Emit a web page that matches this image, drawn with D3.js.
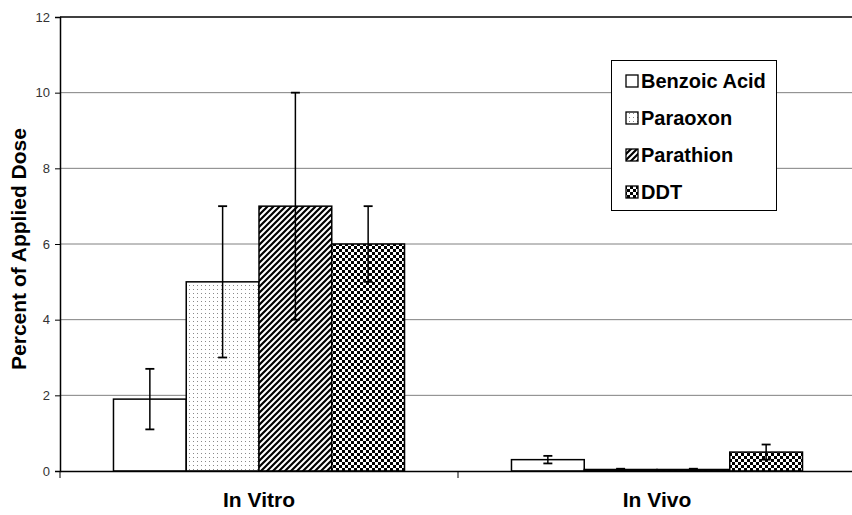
<!DOCTYPE html>
<html>
<head>
<meta charset="utf-8">
<script src="https://cdn.jsdelivr.net/npm/d3@7/dist/d3.min.js"></script>
<style>
  html, body { margin: 0; padding: 0; background: #fff; }
  svg { display: block; font-family: "Liberation Sans", Arial, sans-serif; }
</style>
</head>
<body>
<svg id="chart" width="852" height="515"></svg>
<script>
// Absorption of four compounds, as percent of applied dose
const groups = ["In Vitro", "In Vivo"];
const compounds = ["Benzoic Acid", "Paraoxon", "Parathion", "DDT"];
const inVitroMean = [1.9, 5, 7, 6];
const inVitroErr  = [0.8, 2, 3, 1];
const inVivoMean  = [0.3, 0.04, 0.04, 0.5];
const inVivoErr   = [0.1, 0.02, 0.02, 0.2];
const yTicks = [0, 2, 4, 6, 8, 10, 12];

const means = [inVitroMean, inVivoMean];
const errs = [inVitroErr, inVivoErr];

const svg = d3.select("#chart");
const plotL = 60, plotR = 856, plotT = 17, plotB = 471;

const y = d3.scaleLinear().domain([0, 12]).range([plotB, plotT]);
const x0 = d3.scaleBand().domain(groups).range([plotL, plotR]).padding(0);
const x1 = d3.scaleBand().domain(compounds).range([0, x0.bandwidth()])
  .paddingInner(0).paddingOuter(0.735);

// Fill patterns, one per compound
const defs = svg.append("defs");
const pDots = defs.append("pattern").attr("id", "pat-dots")
  .attr("patternUnits", "userSpaceOnUse").attr("width", 4).attr("height", 4);
pDots.append("rect").attr("width", 4).attr("height", 4).attr("fill", "#fff");
pDots.append("rect").attr("x", 1).attr("y", 1).attr("width", 1).attr("height", 1).attr("fill", "#8a8a8a");

const pDiag = defs.append("pattern").attr("id", "pat-diag")
  .attr("patternUnits", "userSpaceOnUse").attr("width", 6).attr("height", 6);
pDiag.append("rect").attr("width", 6).attr("height", 6).attr("fill", "#fff");
pDiag.append("path").attr("d", "M0,6 L6,0 M-1.5,1.5 L1.5,-1.5 M4.5,7.5 L7.5,4.5")
  .attr("stroke", "#000").attr("stroke-width", 2.2);

const pCheck = defs.append("pattern").attr("id", "pat-check")
  .attr("patternUnits", "userSpaceOnUse").attr("width", 6).attr("height", 6);
pCheck.append("rect").attr("width", 6).attr("height", 6).attr("fill", "#fff");
pCheck.append("rect").attr("width", 3).attr("height", 3).attr("fill", "#000");
pCheck.append("rect").attr("x", 3).attr("y", 3).attr("width", 3).attr("height", 3).attr("fill", "#000");

const fills = ["#fff", "url(#pat-dots)", "url(#pat-diag)", "url(#pat-check)"];

// Gridlines
svg.append("g").selectAll("line").data(yTicks.filter(t => t > 0 && t < 12)).join("line")
  .attr("x1", plotL).attr("x2", plotR)
  .attr("y1", d => y(d)).attr("y2", d => y(d))
  .attr("stroke", "#808080").attr("stroke-width", 1);
svg.append("line").attr("x1", plotL).attr("x2", plotR)
  .attr("y1", y(12)).attr("y2", y(12)).attr("stroke", "#000").attr("stroke-width", 1.5);

// Bars
const data = [];
groups.forEach((g, gi) => compounds.forEach((c, ci) => {
  data.push({ g, c, ci, v: means[gi][ci], e: errs[gi][ci] });
}));

const bars = svg.append("g");
bars.selectAll("rect").data(data).join("rect")
  .attr("x", d => x0(d.g) + x1(d.c))
  .attr("y", d => y(d.v))
  .attr("width", x1.bandwidth())
  .attr("height", d => y(0) - y(d.v))
  .attr("fill", d => fills[d.ci])
  .attr("stroke", "#000").attr("stroke-width", 1.5);

// Error bars
const eb = svg.append("g").attr("stroke", "#000");
data.forEach(d => {
  const cx = x0(d.g) + x1(d.c) + x1.bandwidth() / 2;
  eb.append("line").attr("x1", cx).attr("x2", cx)
    .attr("y1", y(d.v + d.e)).attr("y2", y(d.v - d.e)).attr("stroke-width", 1.5);
  [d.v + d.e, d.v - d.e].forEach(v => {
    eb.append("line").attr("x1", cx - 4.5).attr("x2", cx + 4.5)
      .attr("y1", y(v)).attr("y2", y(v)).attr("stroke-width", 1.8);
  });
});

// Y axis
const yAxis = svg.append("g").attr("transform", `translate(${plotL},0)`)
  .call(d3.axisLeft(y).tickValues(yTicks).tickSize(5).tickPadding(5).tickFormat(d3.format("d")));
yAxis.select(".domain").attr("stroke", "#000").attr("stroke-width", 1.5);
yAxis.selectAll(".tick line").attr("stroke", "#000");
yAxis.selectAll("text").attr("font-size", 13).attr("fill", "#333")
  .attr("font-family", "'Liberation Sans', Arial, sans-serif");

// X axis
const xAxis = svg.append("g").attr("transform", `translate(0,${plotB})`)
  .call(d3.axisBottom(x0).tickSize(0).tickPadding(21));
xAxis.select(".domain").attr("stroke", "#000").attr("stroke-width", 1.5);
xAxis.selectAll("text").attr("font-size", 21).attr("font-weight", "bold").attr("fill", "#000")
  .attr("font-family", "'Liberation Sans', Arial, sans-serif");
// Category separators on the x axis
const seps = [plotL, x0("In Vivo"), plotR];
svg.append("g").selectAll("line").data(seps).join("line")
  .attr("x1", d => d).attr("x2", d => d)
  .attr("y1", plotB).attr("y2", plotB + 7)
  .attr("stroke", "#000").attr("stroke-width", 1);

// Y axis title
svg.append("text")
  .attr("transform", `translate(26,249) rotate(-90)`)
  .attr("text-anchor", "middle")
  .attr("font-size", 21).attr("font-weight", "bold")
  .text("Percent of Applied Dose");

// Legend
const lg = svg.append("g");
lg.append("rect").attr("x", 611.5).attr("y", 60.5).attr("width", 165).attr("height", 150)
  .attr("fill", "#fff").attr("stroke", "#000").attr("stroke-width", 1);
const ly = d3.scalePoint().domain(compounds).range([81, 192]);
compounds.forEach((c, i) => {
  lg.append("rect").attr("x", 626).attr("y", ly(c) - 6).attr("width", 12).attr("height", 12)
    .attr("fill", fills[i]).attr("stroke", "#000").attr("stroke-width", 1.3);
  lg.append("text").attr("x", 641).attr("y", ly(c)).attr("dy", "0.36em")
    .attr("font-size", 20).attr("font-weight", "bold").text(c);
});
</script>
</body>
</html>
